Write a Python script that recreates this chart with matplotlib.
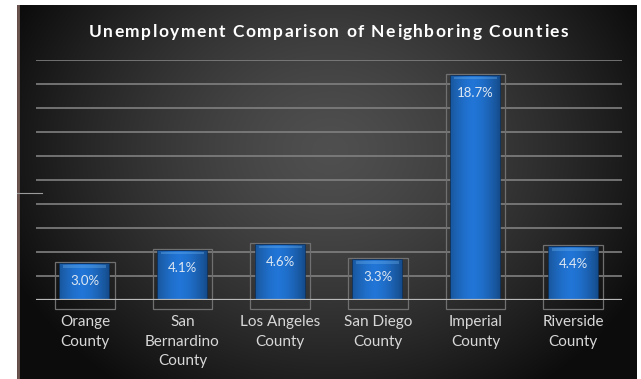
import numpy as np
import matplotlib
matplotlib.use("Agg")
import matplotlib.pyplot as plt
from matplotlib.patches import Rectangle

categories = ["Orange\nCounty", "San\nBernardino\nCounty", "Los Angeles\nCounty",
              "San Diego\nCounty", "Imperial\nCounty", "Riverside\nCounty"]
values = [3.0, 4.1, 4.6, 3.3, 18.7, 4.4]
value_labels = ["3.0%", "4.1%", "4.6%", "3.3%", "18.7%", "4.4%"]
title = "Unemployment Comparison of Neighboring Counties"

W, H = 641, 379
fig = plt.figure(figsize=(W / 100, H / 100), dpi=100)
fig.patch.set_facecolor("white")

# dark radial-gradient background panel
bx0, bx1, by0, by1 = 17, 637, 5, 379
bg = fig.add_axes([bx0 / W, 1 - by1 / H, (bx1 - bx0) / W, (by1 - by0) / H])
bg.set_axis_off()
ny, nx = 200, 320
yy, xx = np.mgrid[0:ny, 0:nx]
px = bx0 + xx / (nx - 1) * (bx1 - bx0)
py = by0 + yy / (ny - 1) * (by1 - by0)
d = np.sqrt(((px - 330) / 360) ** 2 + ((py - 150) / 300) ** 2)
lev = np.clip(0.31 - 0.27 * d ** 1.4, 0.05, 0.31)
img = np.dstack([lev, lev, lev])
bg.imshow(img, aspect="auto", extent=[0, 1, 0, 1], origin="upper")
bg.set_xlim(0, 1)
bg.set_ylim(0, 1)
bg.plot([0.002, 0.002], [0, 1], color="#6e5650", lw=2)
bg.plot([0, (42 - bx0) / (bx1 - bx0)], [1 - (193 - by0) / (by1 - by0)] * 2,
        color="#9a9a9a", lw=0.8)

# main axes
ax = fig.add_axes([36 / W, (H - 300) / H, 586 / W, 240 / H])
ax.set_facecolor("none")
ax.set_xlim(-0.5, len(values) - 0.5)
ax.set_ylim(0, 20)
for s in ax.spines.values():
    s.set_visible(False)
ax.set_yticks([])
ax.tick_params(axis="x", length=0, pad=11)
for g in range(2, 21, 2):
    ax.axhline(g, color="#808080", lw=1.2, zorder=1)
ax.axhline(0, color="#b8b8b8", lw=1.6, zorder=4)

x = np.arange(len(values))
px_unit = 20 / 240.0
bars = ax.bar(x, values, width=0.5, color="#2473c8", edgecolor="#0d3463",
              linewidth=1.2, zorder=3)

# gradient shading inside bars
grad = np.linspace(0, 1, 64)
shade = 1 - 0.45 * np.abs(grad - 0.45) ** 1.6 * 2
base = np.array([0.13, 0.46, 0.84])
gimg = np.clip(base[None, None, :] * shade[None, :, None], 0, 1)
for b, v in zip(bars, values):
    x0 = b.get_x()
    w = b.get_width()
    im = ax.imshow(gimg, extent=[x0, x0 + w, 0, v], aspect="auto", zorder=3.1)
    im.set_clip_path(b)
    ax.add_patch(Rectangle((x0 + 0.03, v - 3.5 * px_unit), w - 0.06, 2.5 * px_unit,
                           facecolor="#6fb3ee", edgecolor="none", alpha=0.35,
                           zorder=3.2))
    ax.add_patch(Rectangle((x0 - 0.055, -9 * px_unit), w + 0.11,
                           v + 11 * px_unit, facecolor="none",
                           edgecolor="#707070", lw=0.9, zorder=2.5,
                           clip_on=False))

for xi, v, lab in zip(x, values, value_labels):
    ax.annotate(lab, (xi, v), xytext=(0, -17), textcoords="offset pixels",
                ha="center", va="center", color="#dfe8f2", fontsize=9.5,
                family=["Lato", "DejaVu Sans"], zorder=5)

ax.set_xticks(x)
ax.set_xticklabels(categories, color="#d8d8d8", fontsize=11,
                   family=["Lato", "DejaVu Sans"], linespacing=1.5)

# letter-spaced title
tx0, twidth, tbase = 89, 479, 37
renderer = fig.canvas.get_renderer()
probe = fig.text(0, 0, title, fontsize=12.5, fontweight="bold",
                 family=["Lato", "DejaVu Sans"])
full_w = probe.get_window_extent(renderer).width
prefix_w = []
for i in range(len(title)):
    if i == 0:
        prefix_w.append(0.0)
    else:
        probe.set_text(title[:i].replace(" ", "\u00a0"))
        prefix_w.append(probe.get_window_extent(renderer).width)
probe.remove()
sp = (twidth - full_w) / (len(title) - 1)
for i, ch in enumerate(title):
    if ch == " ":
        continue
    xpos = tx0 + prefix_w[i] + i * sp
    fig.text(xpos / W, 1 - tbase / H, ch, ha="left", va="baseline", color="white",
             fontsize=12.5, fontweight="bold", family=["Lato", "DejaVu Sans"])

fig.savefig("out.png", dpi=100, facecolor=fig.get_facecolor())
